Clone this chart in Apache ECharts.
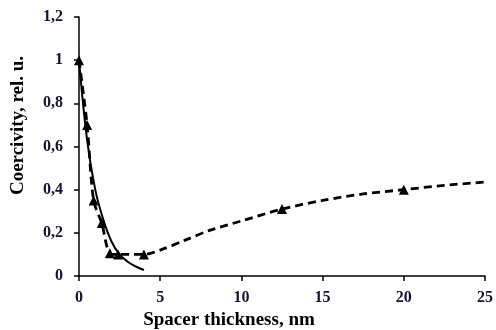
<!DOCTYPE html>
<html><head><meta charset="utf-8">
<script src="https://cdn.jsdelivr.net/npm/echarts@6/dist/echarts.min.js"></script>
<style>html,body{margin:0;padding:0;background:#fff}#c{width:496px;height:330px}</style>
</head><body><div id="c"></div>
<script>
// Measured points (triangle markers)
var markX = [0, 0.5, 0.9, 1.4, 1.9, 2.4, 4, 12.5, 20];
var markY = [1.0, 0.70, 0.35, 0.245, 0.105, 0.10, 0.10, 0.31, 0.40];
// Dashed guide line
var dashX = [0, 0.5, 0.9, 1.4, 1.9, 2.4, 3.2, 4, 5, 6.5, 8, 10, 12.5, 15, 17.5, 20, 22.5, 25];
var dashY = [1.0, 0.70, 0.35, 0.245, 0.105, 0.10, 0.10, 0.10, 0.12, 0.165, 0.21, 0.255, 0.31, 0.35, 0.38, 0.40, 0.42, 0.435];
// Fitted curve (solid)
var fitX = [0, 0.5, 1, 1.5, 2, 2.5, 3, 3.5, 4];
var fitY = [1.0, 0.63, 0.40, 0.26, 0.16, 0.10, 0.066, 0.044, 0.028];
var xTicks = [0, 5, 10, 15, 20, 25];
var yTicks = [0, 0.2, 0.4, 0.6, 0.8, 1, 1.2];

var font = '"Liberation Serif", "Times New Roman", serif';
function pairs(xs, ys){ return xs.map(function(x, i){ return [x, ys[i]]; }); }

var chart = echarts.init(document.getElementById('c'), null, {renderer: 'canvas'});
chart.setOption({
  animation: false,
  grid: {left: 79, right: 11, top: 17, bottom: 54, containLabel: false, outerBoundsMode: 'none'},
  xAxis: {
    type: 'value', min: 0, max: 25, interval: 5,
    name: 'Spacer thickness, nm', nameLocation: 'middle', nameGap: 29,
    nameTextStyle: {fontFamily: font, fontWeight: 'bold', fontSize: 19, color: '#000', padding: [0, 106, 0, 0]},
    axisLine: {lineStyle: {color: '#000', width: 1.5}},
    axisTick: {show: true, inside: false, length: 5, lineStyle: {color: '#000', width: 1.5}},
    axisLabel: {fontFamily: font, fontWeight: 'bold', fontSize: 16, color: '#141432', margin: 14,
      formatter: function(v){ return xTicks.indexOf(v) >= 0 ? String(v) : ''; }},
    splitLine: {show: false}
  },
  yAxis: {
    type: 'value', min: 0, max: 1.2, interval: 0.2,
    name: 'Coercivity, rel. u.', nameLocation: 'middle', nameGap: 51,
    nameTextStyle: {fontFamily: font, fontWeight: 'bold', fontSize: 19, color: '#000', padding: [0, 0, 0, 42]},
    axisLine: {show: true, lineStyle: {color: '#000', width: 1.5}},
    axisTick: {show: true, inside: false, length: 5, lineStyle: {color: '#000', width: 1.5}},
    axisLabel: {fontFamily: font, fontWeight: 'bold', fontSize: 16, color: '#141432', margin: 16,
      formatter: function(v){
        var r = Math.round(v * 10) / 10;
        return yTicks.indexOf(r) >= 0 ? String(r).replace('.', ',') : '';
      }},
    splitLine: {show: false}
  },
  series: [
    {
      type: 'line', data: pairs(fitX, fitY), smooth: 0.4, symbol: 'none',
      lineStyle: {color: '#000', width: 2}, z: 2
    },
    {
      type: 'line', data: pairs(dashX, dashY), smooth: 0.3, symbol: 'none',
      lineStyle: {color: '#000', width: 2.8, type: [8, 5]}, z: 3
    },
    {
      type: 'scatter', data: pairs(markX, markY), symbol: 'triangle', symbolSize: 10,
      itemStyle: {color: '#000', opacity: 1}, z: 4
    }
  ]
});
</script></body></html>
